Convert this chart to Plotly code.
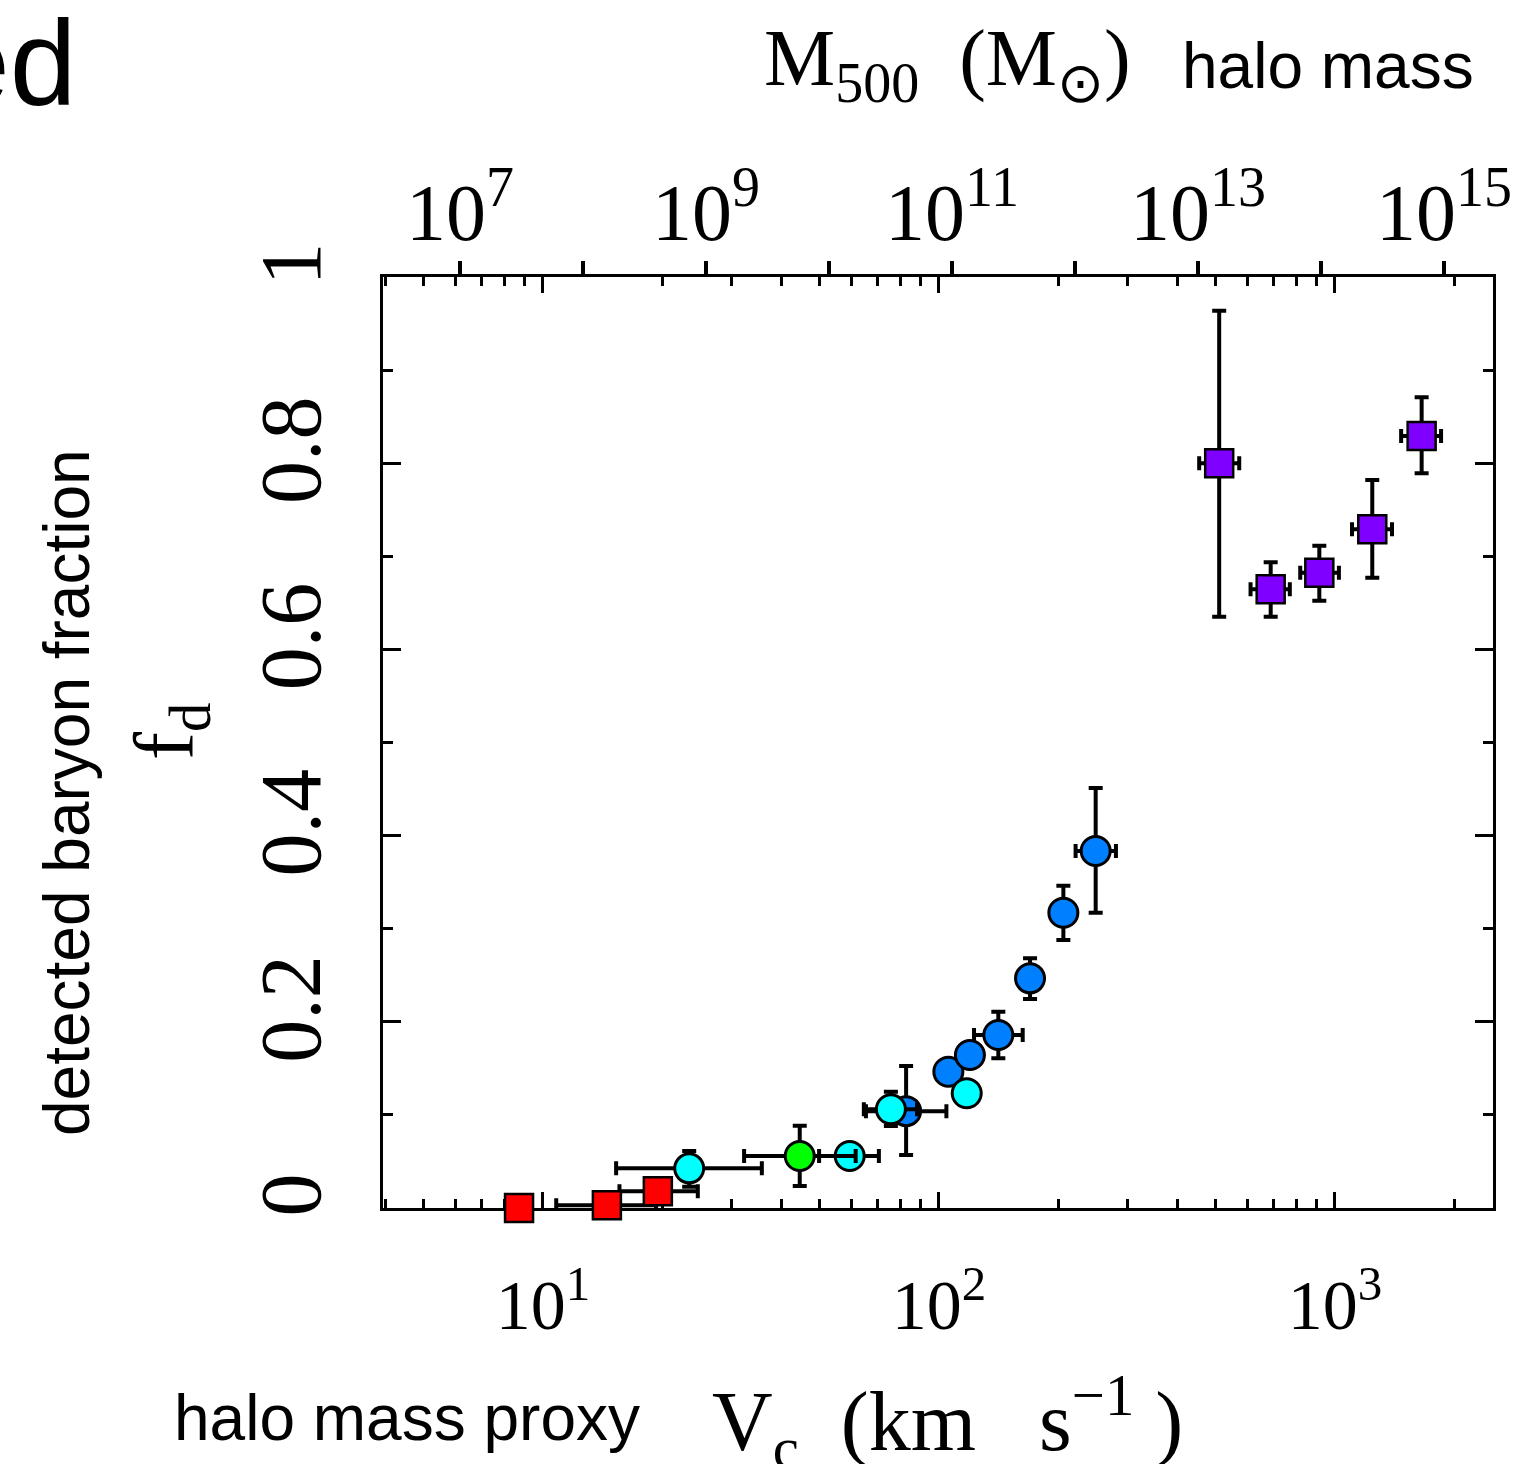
import plotly.graph_objects as go

# ---------------- data ----------------
# red squares
red_vc = [8.7, 14.5, 19.5]
red_fd = [0.0, 0.003, 0.018]
red_vc_lo = [None, 10.8, 15.6]
red_vc_hi = [None, 19.3, 24.6]

# blue circles
blue_vc = [82.6, 105.6, 119.7, 141.2, 169.8, 206.1, 248.7]
blue_fd = [0.104, 0.1464, 0.1643, 0.1858, 0.2467, 0.3172, 0.3835]
blue_vc_lo = [65.4, None, None, 122.6, None, None, 221.3]
blue_vc_hi = [104.4, None, None, 162.7, None, None, 279.8]
blue_fd_lo = [0.057, None, None, 0.1608, 0.2245, 0.2879, 0.3172]
blue_fd_hi = [0.1525, None, None, 0.2109, 0.2682, 0.3462, 0.451]

# cyan circles
cyan_vc = [23.4, 59.5, 75.6, 117.5]
cyan_fd = [0.0426, 0.0559, 0.106, 0.1232]
cyan_vc_lo = [15.3, 49.8, 64.6, None]
cyan_vc_hi = [35.7, 70.5, 88.0, None]
cyan_fd_lo = [0.0229, None, 0.088, None]
cyan_fd_hi = [0.0612, None, 0.125, None]

# green circle
green_vc = [44.5]
green_fd = [0.0559]
green_vc_lo = [32.2]
green_vc_hi = [61.6]
green_fd_lo = [0.0236]
green_fd_hi = [0.0884]

# purple squares
purple_vc = [510, 688, 912.9, 1242, 1655]
purple_fd = [0.80, 0.6645, 0.6824, 0.729, 0.8292]
purple_vc_lo = [454, 612, 817, 1104, 1469]
purple_vc_hi = [573, 769, 1023, 1393, 1853]
purple_fd_lo = [0.6351, 0.6351, 0.6523, 0.677, 0.7892]
purple_fd_hi = [0.9638, 0.6936, 0.7114, 0.782, 0.8708]

# axis ticks
vc_ticks = [10, 100, 1000]
vc_ticktext = ["10<sup>1</sup>", "10<sup>2</sup>", "10<sup>3</sup>"]
vc_minor = [4, 5, 6, 7, 8, 9, 20, 30, 40, 50, 60, 70, 80, 90,
            200, 300, 400, 500, 600, 700, 800, 900, 2000]
m_exps = [7, 8, 9, 10, 11, 12, 13, 14, 15]
m_label_exps = [7, 9, 11, 13, 15]
fd_ticks = [0, 0.2, 0.4, 0.6, 0.8, 1.0]
fd_ticktext = ["0", "0.2", "0.4", "0.6", "0.8", "1"]
fd_minor = [0.1, 0.3, 0.5, 0.7, 0.9]

# ---------------- helpers ----------------
W, H = 1537, 1464
L, R, T, B = 383, 44, 277, 256
PW, PH = W - L - R, H - T - B


def px(x):
    return (x - L) / PW


def py(y):
    return (H - B - y) / PH


def plus(v, hi):
    if hi is None:
        return [None for _ in v]
    return [None if h is None else h - a for a, h in zip(v, hi)]


def minus(v, lo):
    if lo is None:
        return [None for _ in v]
    return [None if l is None else a - l for a, l in zip(v, lo)]


SERIF = "Liberation Serif"
SANS = "Liberation Sans"
ERR = dict(color="black", thickness=4, width=7)


def add_group(fig, vc, fd, color, symbol, size, vlo=None, vhi=None, flo=None, fhi=None, lw=3):
    tr = dict(
        x=vc, y=fd, mode="markers", cliponaxis=False, showlegend=False,
        marker=dict(color=color, symbol=symbol, size=size,
                    line=dict(color="black", width=lw)),
    )
    if vlo is not None or vhi is not None:
        tr["error_x"] = dict(type="data", symmetric=False,
                             array=plus(vc, vhi), arrayminus=minus(vc, vlo), **ERR)
    if flo is not None or fhi is not None:
        tr["error_y"] = dict(type="data", symmetric=False,
                             array=plus(fd, fhi), arrayminus=minus(fd, flo), **ERR)
    fig.add_trace(go.Scatter(**tr))


fig = go.Figure()
add_group(fig, red_vc, red_fd, "#ff0000", "square", 28, red_vc_lo, red_vc_hi, lw=2.5)
add_group(fig, blue_vc, blue_fd, "#0080ff", "circle", 29, blue_vc_lo, blue_vc_hi, blue_fd_lo, blue_fd_hi)
add_group(fig, cyan_vc, cyan_fd, "#00ffff", "circle", 29, cyan_vc_lo, cyan_vc_hi, cyan_fd_lo, cyan_fd_hi)
add_group(fig, green_vc, green_fd, "#00ff00", "circle", 29, green_vc_lo, green_vc_hi, green_fd_lo, green_fd_hi)
add_group(fig, purple_vc, purple_fd, "#8000ff", "square", 28, purple_vc_lo, purple_vc_hi, purple_fd_lo, purple_fd_hi, lw=2.5)

# empty trace so that the top (halo mass) axis is drawn
fig.add_trace(go.Scatter(x=[], y=[], xaxis="x2", yaxis="y", mode="markers",
                         showlegend=False, hoverinfo="skip"))

fig.update_layout(
    width=W, height=H,
    margin=dict(l=L, r=R, t=T, b=B, pad=0),
    paper_bgcolor="white", plot_bgcolor="white",
    showlegend=False,
    xaxis=dict(
        type="log", range=[0.596, 3.399],
        tickmode="array", tickvals=vc_ticks, ticktext=vc_ticktext,
        ticks="inside", ticklen=16, tickwidth=3, tickcolor="black",
        minor=dict(tickmode="array", tickvals=vc_minor, ticks="inside",
                   ticklen=9, tickwidth=2.5, tickcolor="black", showgrid=False),
        showline=True, linewidth=3, linecolor="black", mirror="ticks",
        showgrid=False, zeroline=False, layer="below traces",
        tickfont=dict(family=SERIF, size=70, color="black"),
        ticklabelstandoff=34,
    ),
    xaxis2=dict(
        type="log", overlaying="x", side="top", anchor="y",
        range=[6.374, 15.398],
        tickmode="array", tickvals=[10 ** e for e in m_exps],
        ticktext=[("10<sup>%d</sup>" % e) if e in m_label_exps else "" for e in m_exps],
        ticks="outside", ticklen=15, tickwidth=3.5, tickcolor="black",
        showline=False, showgrid=False, zeroline=False,
        tickfont=dict(family=SERIF, size=80, color="black"),
        ticklabelstandoff=-11,
    ),
    yaxis=dict(
        range=[0, 1], tickmode="array", tickvals=fd_ticks, ticktext=fd_ticktext,
        tickangle=-90,
        ticks="inside", ticklen=18, tickwidth=3, tickcolor="black",
        minor=dict(tickmode="array", tickvals=fd_minor, ticks="inside",
                   ticklen=10, tickwidth=3, tickcolor="black", showgrid=False),
        showline=True, linewidth=3, linecolor="black", mirror="ticks",
        showgrid=False, zeroline=False, layer="below traces",
        tickfont=dict(family=SERIF, size=86, color="black"),
        ticklabelstandoff=26,
    ),
)

ann = [
    # clipped word at top-left
    dict(text="ed", x=px(78), y=py(62), xanchor="right", yanchor="middle",
         font=dict(family=SANS, size=120, color="black")),
    # top axis title
    dict(text="M<sub>500</sub>\u00a0\u00a0(M<sub>\u2299</sub>)", x=px(762), y=py(64),
         xanchor="left", yanchor="middle", font=dict(family=SERIF, size=80, color="black")),
    dict(text="halo mass", x=px(1180), y=py(66), xanchor="left", yanchor="middle",
         font=dict(family=SANS, size=64, color="black")),
    # bottom axis title
    dict(text="halo mass proxy", x=px(172), y=py(1418), xanchor="left", yanchor="middle",
         font=dict(family=SANS, size=64, color="black")),
    dict(text="V<sub>c</sub>\u00a0\u00a0(km\u00a0\u00a0\u00a0s<sup>\u22121</sup>\u00a0)",
         x=px(710), y=py(1422), xanchor="left", yanchor="middle",
         font=dict(family=SERIF, size=84, color="black")),
    # left axis title
    dict(text="detected baryon fraction", x=px(67), y=py(793), textangle=-90,
         xanchor="center", yanchor="middle", font=dict(family=SANS, size=64, color="black")),
    dict(text="f<sub>d</sub>", x=px(170), y=py(732), textangle=-90,
         xanchor="center", yanchor="middle", font=dict(family=SERIF, size=84, color="black")),
]
for a in ann:
    a.update(xref="paper", yref="paper", showarrow=False)
fig.update_layout(annotations=ann)

fig.write_html("out.html")
